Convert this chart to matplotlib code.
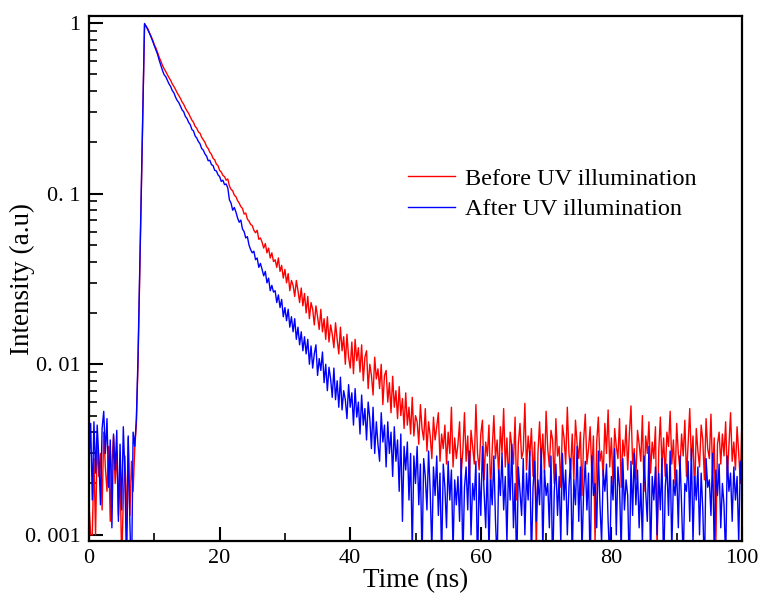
import numpy as np
import matplotlib
matplotlib.use("Agg")
import matplotlib.pyplot as plt
from matplotlib.ticker import FixedLocator, NullFormatter, LogLocator

plt.rcParams['font.family'] = ['Liberation Serif', 'DejaVu Serif']

# sampling step of the decay traces (ns); intensities listed in units of 1e-3 a.u.
time_step = 0.25
unit = 1e-3

before_pre = [1.5, 1.0, 1.0, 2.8, 1.0, 3.6, 2.2, 3.0, 1.4, 4.0, 2.5, 1.8, 3.3, 1.2, 2.6,
              3.8, 2.0, 3.1, 1.3, 2.4, 0.7, 1.6, 2.9, 1.1, 3.7, 1.3, 2.7, 1.8, 3.2]
before_rise = [4.5, 10, 32, 100, 340]
before_decay = [
    980, 960, 925, 880, 840, 795, 745, 712, 672, 630, 598, 565, 540, 520, 498, 478,
    462, 440, 425, 408, 390, 376, 362, 345, 334, 318, 306, 296, 282, 270, 262, 248,
    242, 230, 226, 214, 207, 200, 189, 184, 175, 170, 161, 158, 149, 146, 137, 134,
    128, 126, 120, 122, 111, 106, 104, 98, 96, 91, 88, 84, 82, 76, 77, 71,
    69, 66, 65, 61, 59, 61, 54, 55, 52, 48, 51, 45, 48, 42, 45, 40,
    41, 37, 42, 35, 38, 32, 36, 30, 34, 27, 31, 29, 25, 31, 27, 23,
    28, 22, 26, 20, 25, 18.5, 23, 21, 17, 22, 19, 16, 21, 15.5, 18.5, 14,
    19, 13.5, 17, 15, 12.5, 17.5, 14, 11.5, 16.5, 12, 14.5, 10, 15, 11, 9.5, 13.5,
    8.8, 14, 10.5, 12.5, 9, 13, 8, 11, 12, 7.2, 10, 8.6, 6.6, 11, 8.2, 9.4,
    7.2, 10, 5.8, 8.6, 9.2, 6.0, 7.8, 5.2, 8.5, 5.6, 7.0, 4.8, 7.4, 5.0, 6.3, 4.2,
    6.8, 4.4, 5.6, 3.9, 6.4, 3.8, 5.0, 4.6, 3.4, 5.8, 4.2, 3.6, 5.5, 3.1, 4.6, 3.8,
    2.8, 4.9, 3.6, 4.3, 5.2, 2.7, 3.9, 3.2, 4.4, 2.6, 4.0, 3.0, 5.6, 2.5, 3.7, 2.8,
]
before_floor = [
    3.4, 4.6, 2.3, 3.1, 5.2, 2.7, 3.8, 2.0, 4.1, 3.3, 2.6, 5.8, 3.0, 2.4, 3.9, 4.7, 2.1, 3.5, 2.9, 4.4,
    1.8, 3.2, 5.0, 2.8, 3.6, 2.2, 4.3, 3.0, 5.5, 2.5, 3.7, 2.0, 4.0, 3.3, 2.6, 4.9, 1.6, 3.4, 4.5, 2.8,
    3.1, 5.9, 2.4, 3.8, 2.9, 4.2, 2.2, 3.5, 0.8, 3.0, 4.6, 2.7, 3.9, 2.3, 5.3, 3.2, 2.5, 4.1, 3.6, 2.0,
    4.8, 2.9, 3.3, 1.9, 4.4, 3.7, 2.6, 5.6, 3.0, 2.4, 3.9, 2.1, 4.7, 3.4, 2.8, 4.0, 1.7, 3.6, 5.1, 2.6,
    3.2, 4.3, 2.3, 3.8, 0.9, 3.5, 4.9, 2.7, 3.1, 2.2, 4.5, 3.0, 5.4, 2.5, 3.7, 2.0, 4.2, 3.3, 2.8, 4.8,
    1.9, 3.6, 2.9, 4.4, 2.4, 3.9, 5.7, 2.6, 3.2, 2.1, 4.1, 3.4, 2.7, 5.0, 1.8, 3.8, 3.0, 4.6, 2.3, 3.5,
    2.8, 4.3, 0.8, 3.1, 4.9, 2.5, 3.7, 2.2, 4.0, 3.3, 5.3, 2.6, 3.6, 2.0, 4.5, 3.0, 2.4, 3.9, 2.9, 4.7,
    2.2, 3.4, 5.5, 2.7, 3.8, 1.7, 4.2, 3.1, 2.5, 4.4, 3.6, 2.1, 4.8, 3.2, 2.8, 5.1, 2.3, 3.7, 0.9, 3.4,
    4.0, 2.6, 3.9, 2.9, 4.6, 2.2, 3.3, 5.2, 2.7, 3.5, 2.4, 4.3, 3.0, 2.0, 4.9,
]

after_pre = [2.6, 4.5, 1.6, 4.6, 2.3, 4.4, 2.8, 1.5, 4.2, 5.3, 3.0, 4.8, 1.9, 3.6, 1.1,
             3.9, 2.4, 4.1, 1.2, 3.4, 1.4, 4.3, 2.2, 0.6, 3.8, 1.2, 0.5, 4.0, 3.3]
after_rise = [4.8, 11, 34, 105, 345]
after_decay = [
    995, 955, 915, 872, 830, 782, 738, 695, 655, 605, 565, 528, 498, 485, 462, 440,
    425, 402, 390, 368, 352, 342, 326, 310, 302, 284, 276, 262, 254, 238, 233, 218,
    212, 202, 196, 184, 180, 171, 166, 156, 157, 148, 146, 137, 136, 129, 126, 118,
    120, 113, 114, 108, 92, 88, 80, 83, 78, 72, 68, 70, 62, 60, 55, 56,
    50, 47, 45, 46, 41, 42, 37, 39, 36, 33, 35, 30, 32, 27, 29, 26.5,
    27, 23, 25.5, 21.5, 24, 19, 21.5, 18, 21, 16.5, 19, 15.5, 18.5, 14, 16.5, 13,
    15.5, 12, 14.5, 11.5, 14, 10, 12.8, 9.5, 11.5, 13, 8.6, 10.8, 9.2, 11.8, 7.8, 10,
    7.0, 9.6, 8.2, 6.4, 9.5, 6.2, 8.0, 5.6, 8.4, 5.4, 7.0, 6.2, 4.8, 7.6, 5.6, 6.8,
    4.4, 7.2, 4.9, 6.0, 3.9, 6.6, 4.4, 5.5, 3.6, 6.0, 4.8, 3.2, 5.6, 3.0, 4.6, 3.4,
    2.7, 5.2, 3.5, 4.4, 2.5, 4.6, 3.0, 4.0, 2.2, 4.3, 2.7, 3.6, 1.8, 3.9, 1.2, 3.3,
    2.4, 3.5, 1.6, 3.0, 0.8, 2.9, 2.0, 3.3, 1.5, 2.6, 0.7, 2.8, 2.2, 1.4, 3.1, 1.8,
    0.8, 2.5, 1.7, 2.9, 1.3, 2.3, 0.7, 2.6, 1.9, 1.1, 2.7, 1.6, 2.4, 0.8, 2.1, 1.5,
]
after_floor = [
    2.2, 1.2, 2.8, 0.7, 1.9, 2.5, 1.4, 3.1, 1.0, 2.0, 1.6, 2.7, 0.6, 2.3, 1.3, 3.3, 1.8, 1.1, 2.6, 0.8,
    2.1, 1.5, 2.9, 1.2, 0.7, 2.4, 1.7, 3.0, 1.4, 2.2, 0.9, 2.6, 1.6, 3.4, 1.1, 2.0, 0.6, 2.5, 1.8, 1.3,
    2.8, 1.0, 2.3, 1.6, 3.1, 0.7, 1.9, 2.7, 1.2, 2.1, 1.5, 3.2, 0.8, 2.4, 1.7, 2.0, 1.1, 2.9, 0.6, 1.8,
    2.6, 1.3, 2.2, 0.9, 3.0, 1.6, 2.4, 1.0, 1.9, 2.8, 0.7, 2.1, 1.5, 3.3, 1.2, 2.5, 0.8, 1.8, 2.7, 1.4,
    2.3, 0.6, 2.9, 1.7, 2.0, 1.1, 3.1, 1.5, 0.9, 2.4, 1.8, 2.6, 1.2, 0.7, 2.2, 1.6, 3.2, 1.0, 2.5, 1.9,
    0.8, 2.8, 1.4, 2.1, 1.7, 0.6, 2.7, 1.3, 3.0, 1.5, 2.4, 1.1, 2.0, 0.9, 2.9, 1.8, 1.2, 3.3, 0.7, 2.2,
    1.6, 2.5, 1.0, 2.3, 1.4, 2.8, 0.6, 1.9, 2.6, 1.3, 3.1, 0.8, 2.1, 1.7, 2.4, 1.1, 2.9, 1.5, 0.7, 2.0,
    1.8, 2.7, 1.2, 3.2, 0.9, 2.2, 1.6, 2.5, 1.0, 2.3, 1.4, 0.6, 2.8, 1.9, 2.1, 1.3, 3.0, 0.8, 2.4, 1.7,
    2.6, 1.1, 2.0, 1.5, 0.7, 2.9, 1.8, 2.3, 1.2, 2.5, 1.6, 2.2, 0.9, 2.7, 1.9,
]

series_labels = ["Before UV illumination", "After UV illumination"]
series_colors = ["#ff0000", "#0000ff"]

y_tick_values = [0.001, 0.01, 0.1, 1]
y_tick_labels = ["0. 001", "0. 01", "0. 1", "1"]
x_tick_values = [0, 20, 40, 60, 80, 100]
x_minor_values = [10, 30, 50, 70, 90]

before_uv = np.array(before_pre + before_rise + before_decay + before_floor) * unit
after_uv = np.array(after_pre + after_rise + after_decay + after_floor) * unit
t_before = np.arange(len(before_uv)) * time_step
t_after = np.arange(len(after_uv)) * time_step

fig = plt.figure(figsize=(7.61, 6.01), dpi=100)
ax = fig.add_axes([0.117, 0.0998, 0.858, 0.8735])

ax.plot(t_before, before_uv, color=series_colors[0], lw=1.0, label=series_labels[0])
ax.plot(t_after, after_uv, color=series_colors[1], lw=1.0, label=series_labels[1])

ax.set_yscale('log')
ax.set_xlim(0, 100)
ax.set_ylim(0.00092, 1.1)

ax.yaxis.set_major_locator(FixedLocator(y_tick_values))
ax.set_yticklabels(y_tick_labels)
ax.yaxis.set_minor_locator(LogLocator(base=10, subs=np.arange(2, 10)))
ax.yaxis.set_minor_formatter(NullFormatter())
ax.xaxis.set_major_locator(FixedLocator(x_tick_values))
ax.xaxis.set_minor_locator(FixedLocator(x_minor_values))

ax.tick_params(axis='both', which='major', direction='in', length=10, width=1.5,
               labelsize=16, top=False, right=False, pad=6)
ax.tick_params(axis='both', which='minor', direction='in', length=6, width=1.2,
               top=False, right=False)
for s in ax.spines.values():
    s.set_linewidth(1.6)

ax.set_xlabel("Time (ns)", fontsize=19.5, labelpad=0)
ax.set_ylabel("Intensity (a.u)", fontsize=19.5)
ax.yaxis.set_label_coords(-0.083, 0.5)

ax.legend(loc='upper left', bbox_to_anchor=(0.473, 0.73), frameon=False,
          fontsize=17.5, handlelength=1.95, handletextpad=0.4, labelspacing=0.35,
          borderaxespad=0)

fig.savefig("out.png", dpi=100)
